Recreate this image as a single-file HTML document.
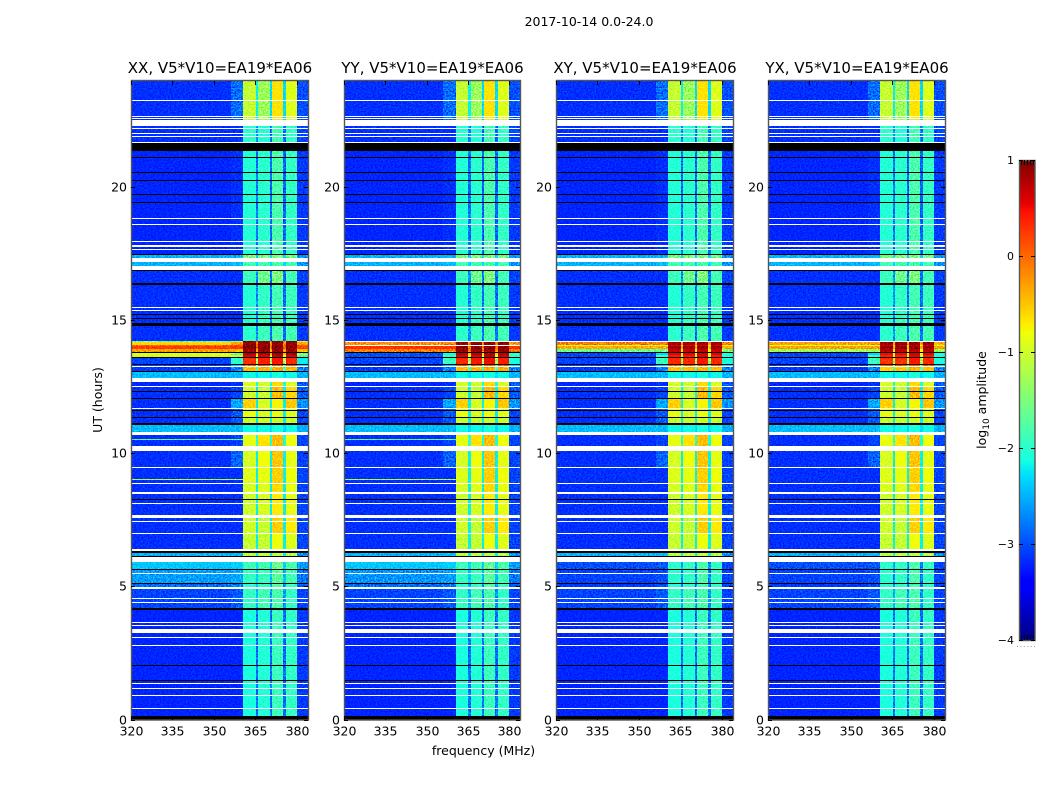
<!DOCTYPE html>
<html>
<head>
<meta charset="utf-8">
<title>2017-10-14 0.0-24.0</title>
<style>
html,body{margin:0;padding:0;background:#fff;}
svg{display:block;font-family:"DejaVu Sans","Liberation Sans",sans-serif;fill:#000;}
.cell{shape-rendering:crispEdges;}
.speckle{mix-blend-mode:overlay;opacity:.7;}
</style>
</head>
<body>
<svg id="chart" xmlns="http://www.w3.org/2000/svg" width="1050" height="800" viewBox="0 0 1050 800">
  <defs>
    <filter id="speckle" x="0" y="0" width="100%" height="100%" color-interpolation-filters="sRGB">
      <feTurbulence type="fractalNoise" baseFrequency="0.6 0.7" numOctaves="2" seed="4"/>
      <feColorMatrix type="matrix" values="2.6 0 0 0 -0.8  2.6 0 0 0 -0.8  2.6 0 0 0 -0.8  0 0 0 0 1"/>
    </filter>
    <linearGradient id="jet-gradient" x1="0" y1="1" x2="0" y2="0"></linearGradient>
  </defs>
  <rect x="0" y="0" width="1050" height="800" fill="#fff"/>
  <text x="589" y="26" font-size="12.5" text-anchor="middle">2017-10-14 0.0-24.0</text>
  <text transform="translate(102,400) rotate(-90)" font-size="12.5" text-anchor="middle">UT (hours)</text>
  <text x="483.5" y="755" font-size="12.5" text-anchor="middle">frequency (MHz)</text>
  <text transform="translate(986,400) rotate(-90)" font-size="12.5" text-anchor="middle">log<tspan font-size="9" dy="3">10</tspan><tspan dy="-3"> amplitude</tspan></text>
  <g id="panels"></g>
  <g id="colorbar"></g>
</svg>
<script>
// ---- axis tick labels ----
const freqTicks = [320, 335, 350, 365, 380];
const hourTicks = [0, 5, 10, 15, 20];
const colorTicks = [1, 0, -1, -2, -3, -4];
const panelNames = ['XX', 'YY', 'XY', 'YX'];

// ---- frequency channels (MHz edges): bg, ramp, band1, gap, band2, gap, band3, gap, band4, bg ----
const channelEdges = [320, 356, 360.6, 365.1, 366, 370.2, 371, 375, 376, 380, 384];

// ---- time ranges shared by all polarisations (hours) ----
const sharedHours = [
  [22.47, 24], [21.69, 22.28], [17.47, 21.34], [17.32, 17.44], [16.97, 17.17],
  [16.37, 16.85], [15.0, 16.33], [14.22, 15.0], [12.81, 13.05], [12.48, 12.68],
  [12.07, 12.48], [11.7, 12.03], [11.36, 11.66], [11.12, 11.32], [10.78, 11.06],
  [10.27, 10.68], [9.48, 10.08], [8.89, 9.44], [8.54, 8.86], [7.69, 8.46],
  [6.95, 7.57], [6.39, 6.95], [6.15, 6.26], [4.19, 4.89], [0.14, 4.12]
];
// log10 amplitude per channel for each shared time range
const sharedLevels = [
  [-3.15, -2.85, -1.05, -2.2, -1.3, -2.3, -0.65, -2.3, -0.9, -3.0],
  [-3.15, -3.15, -2.0, -2.7, -2.05, -2.85, -1.85, -2.85, -1.95, -3.05],
  [-3.2, -3.15, -2.05, -2.85, -2.0, -2.9, -1.8, -2.9, -1.95, -3.1],
  [-2.5, -2.5, -1.5, -2.3, -1.5, -2.3, -1.5, -2.3, -1.55, -2.65],
  [-2.5, -2.45, -1.85, -2.3, -1.85, -2.3, -1.8, -2.3, -1.85, -2.65],
  [-3.15, -3.15, -1.9, -2.7, -1.6, -2.85, -1.5, -2.85, -1.85, -3.05],
  [-3.15, -3.15, -2.05, -2.7, -1.95, -2.85, -1.85, -2.85, -1.9, -3.1],
  [-3.15, -3.15, -2.0, -2.7, -1.9, -2.85, -1.8, -2.85, -1.85, -3.1],
  [-2.45, -2.45, -2.15, -2.3, -2.15, -2.3, -2.1, -2.3, -2.15, -2.5],
  [-3.2, -3.15, -0.95, -2.1, -1.0, -2.1, -0.6, -2.1, -0.95, -2.95],
  [-3.15, -3.05, -1.0, -2.2, -1.05, -2.2, -0.45, -2.2, -0.6, -2.95],
  [-3.15, -2.55, -0.55, -2.2, -0.95, -2.2, -0.75, -2.2, -0.5, -2.65],
  [-3.15, -2.95, -0.85, -2.2, -0.95, -2.2, -0.85, -2.2, -0.9, -3.05],
  [-3.15, -2.95, -1.05, -2.2, -1.05, -2.2, -1.0, -2.2, -1.05, -3.05],
  [-2.45, -2.45, -2.15, -2.3, -2.15, -2.3, -2.1, -2.3, -2.15, -2.5],
  [-3.15, -3.05, -0.85, -2.0, -0.65, -2.1, -0.45, -2.1, -0.8, -3.05],
  [-3.15, -2.9, -0.95, -2.2, -0.8, -2.2, -0.5, -2.2, -0.85, -3.05],
  [-3.15, -3.15, -0.9, -2.2, -0.85, -2.2, -0.55, -2.2, -0.8, -3.05],
  [-3.15, -3.15, -0.95, -2.2, -0.9, -2.2, -0.6, -2.2, -0.85, -3.05],
  [-3.15, -3.15, -1.0, -2.2, -0.95, -2.2, -0.7, -2.2, -0.85, -3.05],
  [-3.15, -3.15, -1.0, -2.2, -1.05, -2.2, -0.55, -2.2, -0.7, -3.05],
  [-3.15, -3.15, -1.05, -2.2, -1.05, -2.2, -0.8, -2.2, -0.9, -3.05],
  [-2.5, -2.45, -1.1, -2.2, -1.1, -2.2, -1.1, -2.2, -1.15, -2.65],
  [-3.05, -2.95, -1.95, -2.5, -1.85, -2.65, -1.8, -2.65, -1.95, -3.05],
  [-3.2, -3.2, -2.1, -2.85, -2.05, -2.85, -1.9, -2.85, -1.95, -3.1]
];

// ---- time ranges that differ between polarisations (hours) ----
const panelHours = [
  [14.16, 14.21], [14.06, 14.16], [14.02, 14.06], [13.91, 14.02], [13.81, 13.91],
  [13.69, 13.76], [13.62, 13.69], [13.35, 13.62], [13.27, 13.35], [13.10, 13.22],
  [5.65, 5.92], [5.14, 5.62], [4.97, 5.10]
];
// null = flagged channel (left blank)
const levelsXX = [
  [-1.6, -1.1, 0.95, -0.1, 0.95, -0.1, 0.95, -0.1, 0.95, -0.7],
  [-0.6, -0.3, 0.9, -0.2, 0.9, -0.2, 0.9, -0.2, 0.9, -0.3],
  [0.05, 0.1, 0.95, -0.1, 0.95, -0.1, 0.95, -0.1, 0.95, 0.05],
  [0.25, 0.25, 0.95, 0.0, 0.95, 0.0, 0.95, 0.0, 0.95, 0.2],
  [-0.3, -0.4, 0.9, -0.3, 0.9, -0.3, 0.9, -0.3, 0.9, -0.5],
  [-0.9, -1.4, 0.8, -0.5, 0.8, -0.5, 0.85, -0.5, 0.8, -1.3],
  [-1.0, -1.2, 0.6, -0.8, 0.6, -0.8, 0.7, -0.8, 0.6, -1.8],
  [-3.05, -2.0, 0.3, -1.3, 0.4, -1.3, 0.45, -1.3, 0.35, -2.2],
  [-3.05, -2.4, 0.05, -1.5, 0.1, -1.5, 0.15, -1.5, 0.1, -2.3],
  [-3.1, -2.75, -0.45, -1.8, -0.4, -1.8, -0.35, -1.8, -0.4, -2.75],
  [-2.4, -2.35, -1.9, -2.3, -1.85, -2.35, -1.6, -2.35, -1.8, -2.6],
  [-2.6, -2.55, -1.95, -2.4, -1.9, -2.45, -1.7, -2.45, -1.85, -2.8],
  [-2.85, -2.75, -2.0, -2.5, -1.95, -2.6, -1.75, -2.6, -1.9, -2.95]
];
const levelsYY = [
  [null, null, null, null, null, null, null, null, null, null],
  [-0.2, -0.2, 0.9, -0.2, 0.9, -0.2, 0.9, -0.2, 0.9, -0.2],
  [null, null, null, null, null, null, null, null, null, null],
  [0.3, 0.3, 0.95, 0.0, 0.95, 0.0, 0.95, 0.0, 0.95, 0.3],
  [-0.1, -0.1, 0.9, -0.2, 0.9, -0.2, 0.9, -0.2, 0.9, -0.1],
  [-3.0, -2.1, 0.75, -0.6, 0.75, -0.6, 0.8, -0.6, 0.75, -1.9],
  [-3.0, -2.0, 0.6, -0.8, 0.6, -0.8, 0.7, -0.8, 0.6, -2.0],
  [-3.05, -1.9, 0.35, -1.3, 0.45, -1.3, 0.5, -1.3, 0.4, -2.1],
  [-3.05, -2.4, 0.1, -1.5, 0.1, -1.5, 0.15, -1.5, 0.1, -2.3],
  [-3.1, -2.75, -0.45, -1.8, -0.4, -1.8, -0.35, -1.8, -0.4, -2.75],
  [-2.4, -2.35, -1.9, -2.3, -1.85, -2.35, -1.65, -2.35, -1.8, -2.6],
  [-2.65, -2.6, -1.95, -2.4, -1.9, -2.45, -1.7, -2.45, -1.85, -2.8],
  [-2.85, -2.75, -2.0, -2.5, -1.95, -2.6, -1.75, -2.6, -1.9, -2.95]
];
const levelsXY = [
  [null, null, null, null, null, null, null, null, null, null],
  [-0.1, -0.1, 0.85, -0.3, 0.85, -0.3, 0.85, -0.3, 0.85, -0.1],
  [-0.95, -0.95, 0.65, -0.9, 0.65, -0.9, 0.65, -0.9, 0.65, -0.95],
  [-0.35, -0.35, 0.85, -0.4, 0.85, -0.4, 0.85, -0.4, 0.85, -0.35],
  [-1.6, -1.6, 0.7, -0.8, 0.7, -0.8, 0.7, -0.8, 0.7, -1.5],
  [-3.05, -2.3, 0.55, -0.8, 0.55, -0.8, 0.65, -0.8, 0.55, -2.1],
  [-3.05, -2.0, 0.45, -0.9, 0.45, -0.9, 0.55, -0.9, 0.45, -2.1],
  [-3.05, -1.9, 0.35, -1.3, 0.35, -1.3, 0.45, -1.3, 0.35, -2.1],
  [-3.05, -2.4, 0.1, -1.5, 0.1, -1.5, 0.15, -1.5, 0.1, -2.3],
  [-3.1, -2.75, -0.5, -1.8, -0.45, -1.8, -0.4, -1.8, -0.45, -2.75],
  [-3.0, -2.95, -2.0, -2.6, -1.95, -2.7, -1.8, -2.7, -1.95, -3.05],
  [-3.05, -3.0, -2.0, -2.7, -1.95, -2.75, -1.8, -2.75, -1.95, -3.05],
  [-3.1, -3.0, -2.05, -2.7, -2.0, -2.75, -1.85, -2.75, -2.0, -3.05]
];
const levelsYX = [
  [null, null, null, null, null, null, null, null, null, null],
  [-0.3, -0.3, 0.9, -0.3, 0.9, -0.3, 0.9, -0.3, 0.9, -0.3],
  [-0.9, -0.9, 0.7, -0.9, 0.7, -0.9, 0.7, -0.9, 0.7, -0.9],
  [-0.3, -0.3, 0.9, -0.4, 0.9, -0.4, 0.9, -0.4, 0.9, -0.3],
  [-1.3, -1.3, 0.75, -0.8, 0.75, -0.8, 0.75, -0.8, 0.75, -1.3],
  [-3.05, -2.3, 0.5, -0.8, 0.5, -0.8, 0.65, -0.8, 0.55, -2.1],
  [-3.05, -2.0, 0.4, -0.9, 0.4, -0.9, 0.55, -0.9, 0.45, -2.1],
  [-3.05, -1.9, 0.3, -1.3, 0.3, -1.3, 0.45, -1.3, 0.35, -2.1],
  [-3.05, -2.4, 0.05, -1.5, 0.1, -1.5, 0.15, -1.5, 0.1, -2.3],
  [-3.1, -2.75, -0.55, -1.8, -0.5, -1.8, -0.4, -1.8, -0.5, -2.75],
  [-3.0, -2.95, -2.0, -2.6, -1.95, -2.7, -1.8, -2.7, -1.95, -3.05],
  [-3.05, -3.0, -2.0, -2.7, -1.95, -2.75, -1.8, -2.75, -1.95, -3.05],
  [-3.1, -3.0, -2.05, -2.7, -2.0, -2.75, -1.85, -2.75, -2.0, -3.05]
];
const panelLevels = [levelsXX, levelsYY, levelsXY, levelsYX];

// ---- flagged integrations: hours with no data (white) and zeroed data (black) ----
const whiteHours = [
  [23.20,23.25],[22.63,22.66],[22.55,22.59],[22.48,22.52],[22.28,22.47],[22.17,22.22],[21.99,22.03],[21.86,21.90],
  [21.65,21.69],[18.77,18.81],[18.56,18.60],[17.94,17.98],[17.74,17.82],[17.64,17.67],[17.17,17.32],[16.97,17.02],
  [15.46,15.50],[15.35,15.38],[13.22,13.27],[12.68,12.81],[12.48,12.52],[11.66,11.70],[10.68,10.78],[10.17,10.27],
  [10.08,10.12],[9.44,9.48],[8.86,8.89],[8.46,8.54],[8.10,8.14],[7.57,7.69],[7.42,7.46],[6.95,6.99],[6.34,6.39],
  [5.92,6.12],[5.47,5.50],[4.89,4.97],[4.53,4.57],[4.38,4.42],[3.63,3.67],[3.52,3.55],[3.25,3.39],[3.07,3.10],
  [2.77,2.80],[1.34,1.38],[1.15,1.19],[0.89,0.93],[0.40,0.44]
];
const blackHours = [
  [21.34,21.64],[21.06,21.10],[20.50,20.54],[20.21,20.25],[19.69,19.73],[19.39,19.43],[17.44,17.47],[16.85,16.88],
  [16.33,16.37],[15.22,15.24],[15.04,15.07],[14.77,14.90],[13.76,13.81],[13.57,13.61],[13.30,13.33],[13.05,13.10],[12.30,12.33],
  [12.03,12.07],[11.60,11.63],[11.32,11.36],[11.06,11.12],[8.26,8.30],[6.26,6.34],[6.12,6.15],[5.62,5.65],[5.10,5.14],[4.12,4.19],
  [2.02,2.05],[1.45,1.49],[0,0.14]
];

// ---- narrowband interference seen in XX and YY below the band ----
const rfiHours = [[10.48, 10.52], [8.98, 9.03]];
const rfiLevels = [-1.7, -1.2];
const rfiPanels = ['XX', 'YY'];

// ---- layout ----
const panelLeft = [131, 344, 556, 768];
const panelRight = [308, 520, 733, 945];
const plotTop = 80.1, plotBottom = 719.7;
const cbLeft = 1019, cbRight = 1035, cbTop = 160, cbBottom = 640;
const SVGNS = 'http://www.w3.org/2000/svg';

function yScale(h) { return plotBottom + (h / 24) * (plotTop - plotBottom); }
function xScale(f, p) { return panelLeft[p] + (f - 320) / 64 * (panelRight[p] - panelLeft[p]); }
function cbScale(v) { return cbBottom + (v + 4) / 5 * (cbTop - cbBottom); }

function interp(t, xs, ys) {
  for (let i = 1; i < xs.length; i++) {
    if (t <= xs[i]) return ys[i - 1] + (ys[i] - ys[i - 1]) * (t - xs[i - 1]) / (xs[i] - xs[i - 1]);
  }
  return ys[ys.length - 1];
}
function jet(t) {
  t = Math.max(0, Math.min(1, t));
  const r = interp(t, [0, .35, .66, .89, 1], [0, 0, 1, 1, .5]);
  const g = interp(t, [0, .125, .375, .64, .91, 1], [0, 0, 1, 1, 0, 0]);
  const b = interp(t, [0, .11, .34, .65, 1], [.5, 1, 1, 0, 0]);
  return 'rgb(' + Math.round(r * 255) + ',' + Math.round(g * 255) + ',' + Math.round(b * 255) + ')';
}
function colorOf(v) { return jet((v + 4) / 5); }

function make(tag, attrs, parent) {
  const el = document.createElementNS(SVGNS, tag);
  for (const k in attrs) el.setAttribute(k, attrs[k]);
  parent.appendChild(el);
  return el;
}

function drawRow(group, p, hours, levels) {
  const y0 = Math.round(yScale(hours[1]));
  const y1 = Math.round(yScale(hours[0]));
  for (let c = 0; c < levels.length; c++) {
    if (levels[c] === null) continue;
    const x0 = Math.round(xScale(channelEdges[c], p));
    const x1 = Math.round(xScale(channelEdges[c + 1], p));
    const cell = make('rect', {x: x0, y: y0, width: x1 - x0, height: Math.max(1, y1 - y0), fill: colorOf(levels[c]), 'class': 'cell'}, group);
    
    
  }
}

const panelsRoot = document.getElementById('panels');
panelNames.forEach(function (name, p) {
  const g = make('g', {}, panelsRoot);
  
  

  const left = panelLeft[p], right = panelRight[p];

  // heatmap rows
  sharedHours.forEach(function (h, i) { drawRow(g, p, h, sharedLevels[i]); });
  panelHours.forEach(function (h, i) { drawRow(g, p, h, panelLevels[p][i]); });
  if (rfiPanels.indexOf(name) >= 0) {
    rfiHours.forEach(function (h, i) {
      const y0 = Math.round(yScale(h[1]));
      const x1 = Math.round(xScale(channelEdges[2], p));
      const line = make('rect', {x: left, y: y0, width: x1 - left, height: 1, fill: colorOf(rfiLevels[i]), 'class': 'cell'}, g);
      
      
    });
  }

  // flagged integrations
  whiteHours.forEach(function (h) {
    const y0 = Math.round(yScale(h[1]));
    const y1 = Math.round(yScale(h[0]));
    const band = make('rect', {x: left, y: y0, width: right - left, height: Math.max(1, y1 - y0), fill: '#fff', 'class': 'cell'}, g);
    
    
  });
  blackHours.forEach(function (h) {
    const y0 = Math.round(yScale(h[1]));
    const y1 = Math.round(yScale(h[0]));
    const band = make('rect', {x: left, y: y0, width: right - left, height: Math.max(1, y1 - y0), fill: '#000', 'class': 'cell'}, g);
    
    
  });

  // pixel grain over the image
  const grain = make('rect', {x: left, y: plotTop, width: right - left, height: plotBottom - plotTop, filter: 'url(#speckle)', 'class': 'speckle'}, g);
  
  

  // frame
  const frame = make('rect', {x: left + 0.5, y: 80.5, width: right - left, height: 639.5, fill: 'none', stroke: '#555', 'stroke-width': 1.4}, g);
  
  

  // x ticks
  freqTicks.forEach(function (f) {
    const x = Math.round(xScale(f, p)) + 0.5;
    const tb = make('line', {x1: x, x2: x, y1: 720, y2: 716, stroke: '#000'}, g);
    
    
    const tt = make('line', {x1: x, x2: x, y1: 81, y2: 85, stroke: '#000'}, g);
    
    
    const label = make('text', {x: x, y: 735.5, 'font-size': 12.5, 'text-anchor': 'middle'}, g);
    
    
    label.textContent = f;
  });

  // y ticks
  hourTicks.forEach(function (h) {
    const y = Math.round(yScale(h)) + 0.5;
    const tl = make('line', {x1: left, x2: left + 4, y1: y, y2: y, stroke: '#000'}, g);
    
    
    const tr = make('line', {x1: right, x2: right - 4, y1: y, y2: y, stroke: '#000'}, g);
    
    
    const label = make('text', {x: left - 4, y: y + 3.8, 'font-size': 12.5, 'text-anchor': 'end'}, g);
    
    
    label.textContent = h;
  });

  // title
  const title = make('text', {x: (left + right) / 2 + 0.5, y: 73, 'font-size': 15, 'text-anchor': 'middle'}, g);
  
  
  title.textContent = name + ', V5*V10=EA19*EA06';
});

// ---- colour bar ----
const grad = document.getElementById('jet-gradient');
[0, .11, .125, .34, .35, .375, .64, .65, .66, .89, .91, 1].forEach(function (t) {
  const stop = make('stop', {offset: t, 'stop-color': jet(t)}, grad);
  
  
});
const cb = document.getElementById('colorbar');
const cbOuter = make('rect', {x: cbLeft + 0.5, y: cbTop + 0.5, width: cbRight - cbLeft - 0.5, height: cbBottom - cbTop, fill: 'url(#jet-gradient)', stroke: '#555', 'stroke-width': 1.4}, cb);


colorTicks.forEach(function (v) {
  const y = Math.round(cbScale(v)) + 0.5;
  const a = make('line', {x1: cbLeft, x2: cbLeft + 4, y1: y, y2: y, stroke: '#000'}, cb);
  
  
  const b = make('line', {x1: cbRight, x2: cbRight - 4, y1: y, y2: y, stroke: '#000'}, cb);
  
  
  const label = make('text', {x: 1014, y: y + 3.5, 'font-size': 11, 'text-anchor': 'end'}, cb);
  
  
  label.textContent = String(v).replace('-', '\u2212');
});
[1021.5, 1024.5, 1027.5, 1030.5, 1033.5].forEach(function (x) {
  const t = make('line', {x1: x, x2: x, y1: cbTop, y2: cbTop + 5, stroke: '#000'}, cb);
  
  
  const u = make('line', {x1: x, x2: x, y1: cbBottom, y2: cbBottom - 5, stroke: '#000', 'stroke-opacity': 0.7}, cb);
  
  
});
const dots = make('line', {x1: 1017, x2: 1035, y1: 646.5, y2: 646.5, stroke: '#999', 'stroke-dasharray': '1 2.4'}, cb);


</script>
</body>
</html>
